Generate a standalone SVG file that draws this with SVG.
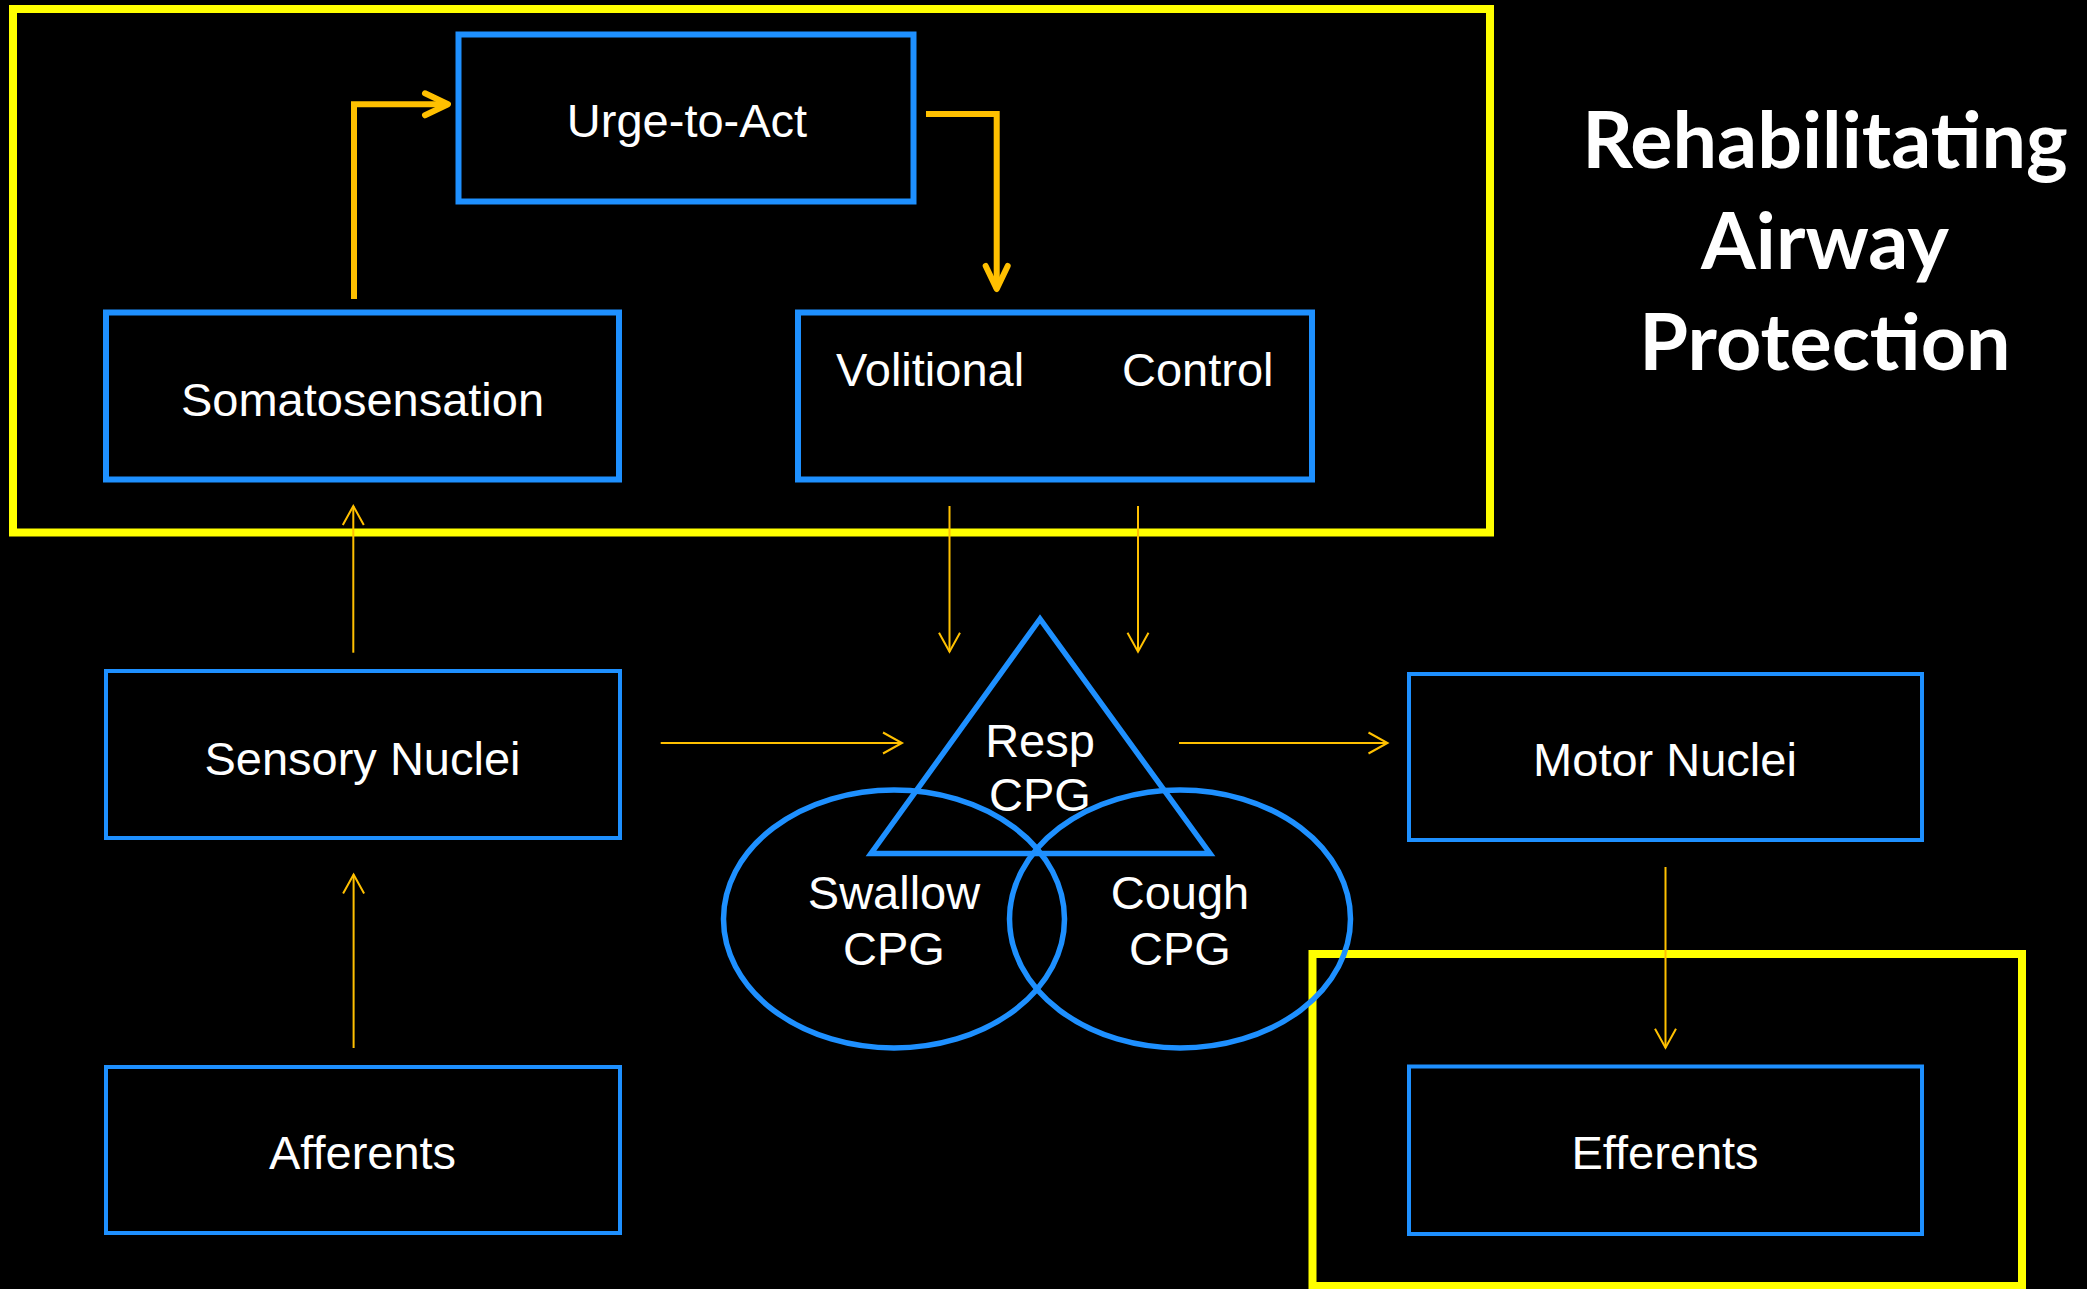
<svg xmlns="http://www.w3.org/2000/svg" width="2087" height="1289" viewBox="0 0 2087 1289">
<defs>
<style>
.bx{fill:none;stroke:#1E90FF;stroke-width:6}
.bt{fill:none;stroke:#1E90FF;stroke-width:4}
.cpg{fill:none;stroke:#1E90FF;stroke-width:5.5;stroke-linejoin:miter}
.yl{fill:none;stroke:#FFFF00;stroke-width:8}
.lbl{font-family:"Liberation Sans",Arial,sans-serif;font-size:47px;fill:#FFFFFF;text-anchor:middle}
.ttl{font-family:Lato,"Open Sans",sans-serif;font-weight:bold;font-size:79px;fill:#FFFFFF;text-anchor:middle}
.thin{fill:none;stroke:#FFC000;stroke-width:2;marker-end:url(#ah)}
.thick{fill:none;stroke:#FFC000;stroke-width:6;marker-end:url(#ahb)}
</style>
<marker id="ah" markerUnits="userSpaceOnUse" orient="auto" overflow="visible" markerWidth="1" markerHeight="1" refX="0" refY="0">
<path d="M-19,-10.5 L0,0 L-19,10.5" fill="none" stroke="#FFC000" stroke-width="2"/>
</marker>
<marker id="ahb" markerUnits="userSpaceOnUse" orient="auto" overflow="visible" markerWidth="1" markerHeight="1" refX="0" refY="0">
<path d="M-23,-11 L0,0 L-23,11" fill="none" stroke="#FFC000" stroke-width="6" stroke-linecap="round" stroke-linejoin="round"/>
</marker>
</defs>
<rect x="0" y="0" width="2087" height="1289" fill="#000000"/>

<g id="region-top">
<rect class="yl" x="13" y="9" width="1477" height="523.5"/>
</g>
<g id="region-bottom">
<rect class="yl" x="1312.5" y="954" width="709.5" height="332" stroke-width="7"/>
</g>

<g id="title">
<text class="ttl" x="1825" y="168">Rehabilitating</text>
<text class="ttl" x="1825" y="269">Airway</text>
<text class="ttl" x="1825" y="370">Protection</text>
</g>

<g id="urge">
<rect class="bx" x="458.5" y="34.5" width="455" height="167"/>
<text class="lbl" x="687" y="137">Urge-to-Act</text>
</g>
<g id="somatosensation">
<rect class="bx" x="106" y="312.5" width="513" height="167"/>
<text class="lbl" x="362.5" y="416">Somatosensation</text>
</g>
<g id="volitional">
<rect class="bx" x="798" y="312.5" width="514" height="167"/>
<text class="lbl" x="836" y="386" text-anchor="start" style="text-anchor:start">Volitional</text>
<text class="lbl" x="1122" y="386" text-anchor="start" style="text-anchor:start">Control</text>
</g>
<g id="sensory">
<rect class="bt" x="106" y="671" width="514" height="167"/>
<text class="lbl" x="362.5" y="774.5">Sensory Nuclei</text>
</g>
<g id="afferents">
<rect class="bt" x="106" y="1067" width="514" height="166"/>
<text class="lbl" x="362.5" y="1169">Afferents</text>
</g>
<g id="motor">
<rect class="bt" x="1409" y="674" width="513" height="166"/>
<text class="lbl" x="1665" y="776">Motor Nuclei</text>
</g>
<g id="efferents">
<rect class="bt" x="1409" y="1066.5" width="513" height="167.5"/>
<text class="lbl" x="1665" y="1169">Efferents</text>
</g>

<g id="swallow">
<ellipse class="cpg" cx="894" cy="919" rx="170.5" ry="129"/>
<text class="lbl" x="894" y="909">Swallow</text>
<text class="lbl" x="894" y="965">CPG</text>
</g>
<g id="cough">
<ellipse class="cpg" cx="1180" cy="919" rx="170.5" ry="129"/>
<text class="lbl" x="1180" y="909">Cough</text>
<text class="lbl" x="1180" y="965">CPG</text>
</g>
<g id="resp">
<polygon class="cpg" points="1040,619 871,853.5 1210,853.5"/>
<text class="lbl" x="1040" y="757">Resp</text>
<text class="lbl" x="1040" y="811">CPG</text>
</g>

<g id="connectors">
<path class="thick" d="M354,299 V104.3 H448"/>
<path class="thick" d="M926,114 H996.7 V289"/>
<path class="thin" d="M353.3,652.7 V506"/>
<path class="thin" d="M353.6,1048 V874.6"/>
<path class="thin" d="M949.5,506 V651.7"/>
<path class="thin" d="M1138,506 V651.7"/>
<path class="thin" d="M660.7,743 H902"/>
<path class="thin" d="M1179,743 H1387.5"/>
<path class="thin" d="M1665.5,867 V1047.7"/>
</g>
</svg>
